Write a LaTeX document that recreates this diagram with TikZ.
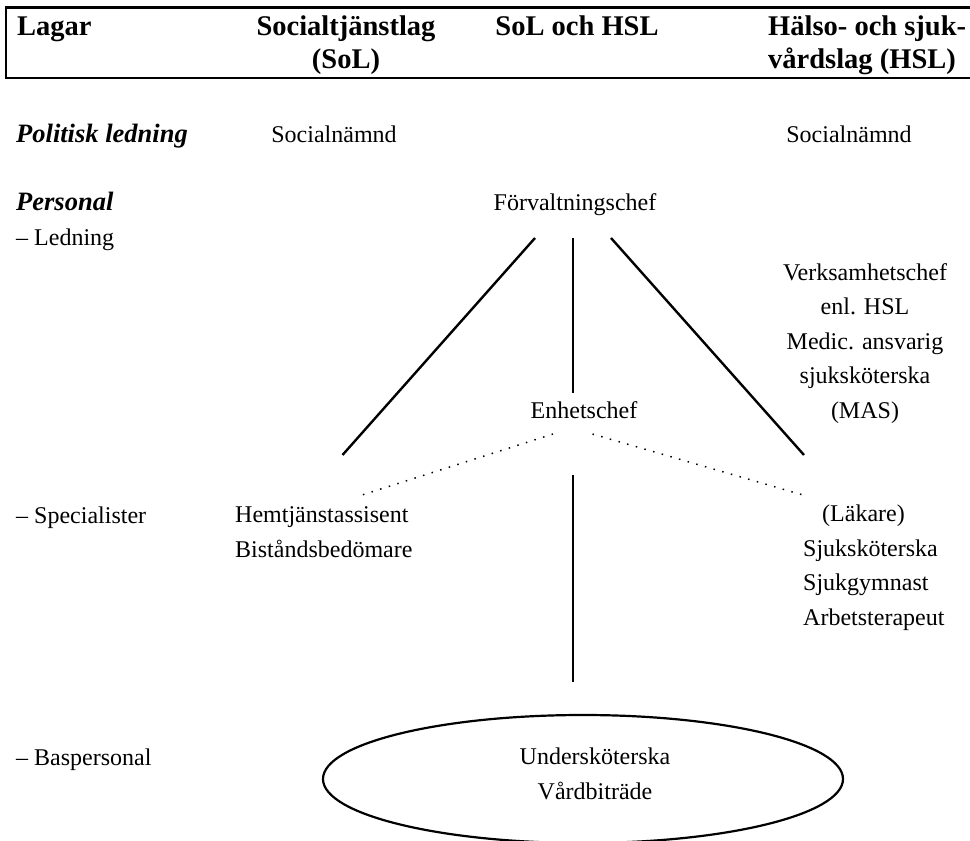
\documentclass[tikz,border=0pt]{standalone}
\usepackage{fontspec}
\setmainfont{Liberation Serif}
\usepackage{tikz}
\usetikzlibrary{shapes.geometric, calc}
\tikzset{
  lawhead/.style={inner sep=0pt, font=\fontsize{28.5}{33}\selectfont\bfseries},
  rowlabel/.style={inner sep=0pt, anchor=base west, font=\fontsize{26.5}{30}\selectfont\bfseries\itshape},
  sublabel/.style={inner sep=0pt, anchor=base west, font=\fontsize{24}{34.5}\selectfont},
  role/.style={inner sep=0pt, anchor=base, align=center, font=\fontsize{24}{34.5}\selectfont},
  orgline/.style={line width=2.4pt},
  dotline/.style={line width=1.5pt, dash pattern=on 1.5pt off 7.5pt},
  staffoval/.style={ellipse, draw, line width=2.2pt, minimum width=520pt, minimum height=128pt, inner sep=0pt},
}
\begin{document}
\begin{tikzpicture}[x=1pt, y=-1pt]
\useasboundingbox (0,0) rectangle (970,841);

% header (multi-line nodes sit on their last baseline)
\draw[orgline] (970,7.5) -| (6,78) -- (970,78);
\node[lawhead, anchor=base west] (lagar) at (17,35) {Lagar};
\node[lawhead, anchor=base, align=center] (sol) at (346,68) {Socialtjänstlag\\(SoL)};
\node[lawhead, anchor=base] (solhsl) at (577,35) {SoL och HSL};
\node[lawhead, anchor=base west, align=left] (hsl) at (768,68) {Hälso- och sjuk-\\vårdslag (HSL)};

% rows
\node[rowlabel] (politisk) at (16,142) {Politisk ledning};
\node[role] (socnamnd-sol) at (334,142) {Socialnämnd};
\node[role] (socnamnd-hsl) at (849,142) {Socialnämnd};
\node[rowlabel] (personal) at (16,210) {Personal};
\node[sublabel] (ledning) at (16,245) {– Ledning};
\node[role] (forv) at (575,210) {Förvaltningschef};
\node[role] (verks) at (865,418) {Verksamhetschef\\enl. HSL\\Medic. ansvarig\\sjuksköterska\\(MAS)};
\node[role] (enh) at (584,418) {Enhetschef};
\node[sublabel] (spec) at (16,523) {– Specialister};
\node[role, anchor=base west, align=left] (spec-sol) at (235,557) {Hemtjänstassisent\\Biståndsbedömare};
\node[role, anchor=base west, align=left] (spec-hsl) at (803,625) {\hspace*{19pt}(Läkare)\\Sjuksköterska\\Sjukgymnast\\Arbetsterapeut};
\node[sublabel] (bas) at (16,765) {– Baspersonal};
\node[staffoval] (basoval) at (583,779) {};
\node[role] (bastext) at (595,799) {Undersköterska\\Vårdbiträde};

% line ends
\coordinate (fc-l) at (535,238);
\coordinate (fc-m) at (573,238);
\coordinate (fc-r) at (611,238);
\coordinate (sol-top) at (342.5,455);
\coordinate (enh-top) at (573,393);
\coordinate (hsl-top) at (804,455);
\coordinate (enh-l) at (553,434);
\coordinate (enh-r) at (592.5,434);
\coordinate (spec-l) at (362,495);
\coordinate (spec-r) at (803,495);
\coordinate (enh-bot) at (573,475);
\coordinate (bas-top) at (573,682);

\draw[orgline] (fc-l) -- (sol-top);
\draw[orgline] (fc-m) -- (enh-top);
\draw[orgline] (fc-r) -- (hsl-top);
\draw[dotline] (enh-l) -- (spec-l);
\draw[dotline] (enh-r) -- (spec-r);
\draw[orgline] (enh-bot) -- (bas-top);
\end{tikzpicture}
\end{document}
